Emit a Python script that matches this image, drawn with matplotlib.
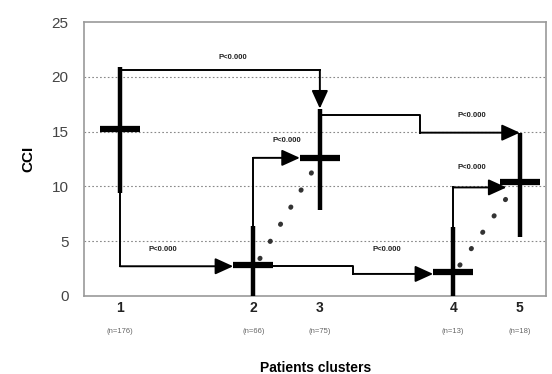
import matplotlib.pyplot as plt

plt.rcParams['font.family'] = ['Liberation Sans', 'DejaVu Sans']

# cluster data (CCI)
clusters = ['1', '2', '3', '4', '5']
n_labels = ['(n=176)', '(n=66)', '(n=75)', '(n=13)', '(n=18)']
cluster_x = [1, 3, 4, 6, 7]
cci_mean = [15.2, 2.8, 12.6, 2.2, 10.4]
cci_low = [9.4, 0.0, 7.8, 0.0, 5.4]
cci_high = [20.9, 6.4, 17.1, 6.3, 14.9]

# comparisons: connector levels, p label
p_text = 'P<0.000'
cmp_1_3 = [20.6]
cmp_1_2 = [2.7]
cmp_1_4 = [2.7, 2.0]
cmp_2_3 = [12.6]
cmp_3_5 = [16.5, 14.9]
cmp_4_5 = [9.9]

fig = plt.figure(figsize=(5.52, 3.74), dpi=100)
ax = fig.add_axes([0.152, 0.209, 0.838, 0.732])

ax.set_xlim(0.46, 7.4)
ax.set_ylim(0, 25)
ax.set_yticks([0, 5, 10, 15, 20, 25])
for y in [5, 10, 15, 20]:
    ax.axhline(y, color='#888888', lw=0.8, ls=(0, (1.5, 2)), zorder=0)

for s in ax.spines.values():
    s.set_color('#999999')
    s.set_linewidth(1.2)

ax.tick_params(axis='y', length=0, pad=11, labelsize=11, labelcolor='#444444')
ax.tick_params(axis='x', length=0, pad=4)
ax.set_xticks(cluster_x)
ax.set_xticklabels(clusters, fontsize=10, fontweight='bold', color='#222222')
for x, lab in zip(cluster_x, n_labels):
    ax.text(x, -3.3, lab, ha='center', va='center', fontsize=5.5, color='#666666')

ax.set_ylabel('CCI', fontsize=11, fontweight='bold', labelpad=12)
ax.set_xlabel('Patients clusters', fontsize=10, fontweight='bold', labelpad=33)

# ranges and means
hw = 0.3
for x, m, lo, hi in zip(cluster_x, cci_mean, cci_low, cci_high):
    ax.plot([x, x], [lo, hi], color='black', lw=3.2, solid_capstyle='butt', zorder=4)
    ax.plot([x - hw, x + hw], [m, m], color='black', lw=4.5, solid_capstyle='butt', zorder=4)

x1, x2, x3, x4, x5 = cluster_x
conn = dict(color='black', lw=1.4, zorder=3)
arr = dict(arrowstyle='-|>,head_length=0.55,head_width=0.25', color='black', lw=1.4,
           mutation_scale=20, shrinkA=0, shrinkB=0)


def arrow(start, end):
    ax.annotate('', xy=end, xytext=start, arrowprops=arr, zorder=5)


def p_label(x, y):
    ax.text(x, y, p_text, fontsize=5.5, ha='center', va='center', fontweight='bold',
            color='#222222')


# 1 -> 3
ax.plot([x1, x3], [cmp_1_3[0], cmp_1_3[0]], **conn)
arrow((x3, cmp_1_3[0]), (x3, cci_high[2]))
p_label(2.7, 21.8)

# 1 -> 2 and 1 -> 4
ax.plot([x1, x1], [cci_low[0], cmp_1_2[0]], **conn)
arrow((x1, cmp_1_2[0]), (x2 - hw, cmp_1_2[0]))
ax.plot([x2, 4.5, 4.5, 4.5], [cmp_1_4[0], cmp_1_4[0], cmp_1_4[1], cmp_1_4[1]], **conn)
arrow((4.5, cmp_1_4[1]), (x4 - hw, cmp_1_4[1]))
p_label(1.65, 4.2)
p_label(5.0, 4.2)

# 2 -> 3
ax.plot([x2, x2], [cci_high[1], cmp_2_3[0]], **conn)
arrow((x2, cmp_2_3[0]), (x3 - hw, cmp_2_3[0]))
p_label(3.5, 14.2)

# 3 -> 5
ax.plot([x3, 5.5, 5.5], [cmp_3_5[0], cmp_3_5[0], cmp_3_5[1]], **conn)
arrow((5.5, cmp_3_5[1]), (x5, cmp_3_5[1]))
p_label(6.28, 16.5)

# 4 -> 5
ax.plot([x4, x4], [cci_mean[3], cmp_4_5[0]], **conn)
arrow((x4, cmp_4_5[0]), (x5 - 0.2, cmp_4_5[0]))
p_label(6.28, 11.7)

# dotted trends between means
dots = dict(color='#333333', lw=3.5, ls=(0, (0.1, 4)), dash_capstyle='round', zorder=2)
ax.plot([x2 + 0.1, x3 - 0.05], [cci_mean[1] + 0.6, cci_mean[2] - 0.6], **dots)
ax.plot([x4 + 0.1, x5 - 0.1], [cci_mean[3] + 0.6, cci_mean[4] - 0.6], **dots)

fig.savefig('out.png', dpi=100)
